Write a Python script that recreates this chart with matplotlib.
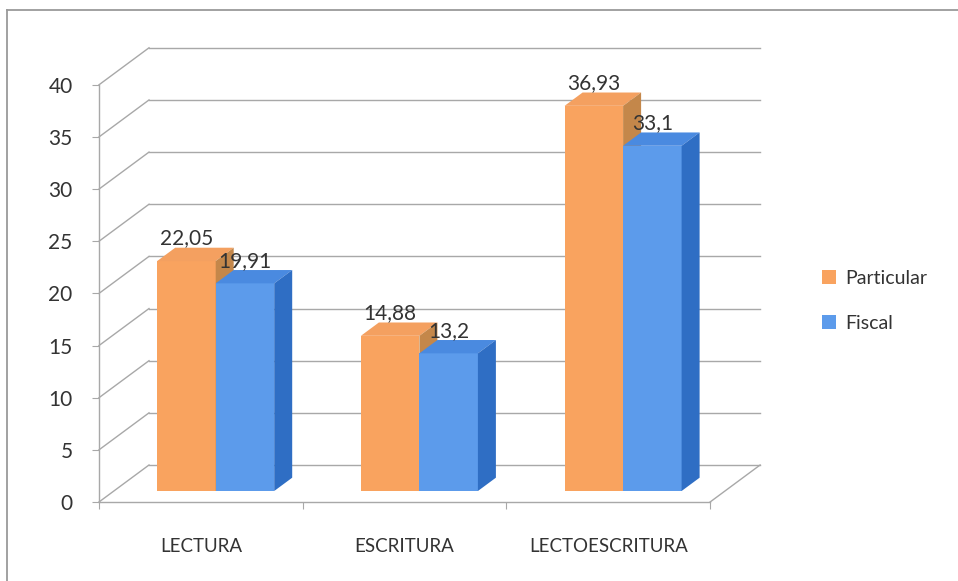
import matplotlib
matplotlib.use("Agg")
import matplotlib.pyplot as plt
from matplotlib.patches import Polygon, Patch
from matplotlib.lines import Line2D

plt.rcParams["font.family"] = ["Lato", "DejaVu Sans"]

categories = ["LECTURA", "ESCRITURA", "LECTOESCRITURA"]
series_names = ["Particular", "Fiscal"]
particular = [22.05, 14.88, 36.93]
fiscal = [19.91, 13.2, 33.1]
yticks = [0, 5, 10, 15, 20, 25, 30, 35, 40]

W, H = 958, 581
fig = plt.figure(figsize=(W / 100, H / 100), dpi=100)
ax = fig.add_axes([0, 0, 1, 1])

# pixel mapping: x=0 at px 99, 203.7 px per category; y=0 at px 502, 10.43 px per unit
px_x, px_y = 203.7, 10.43
ax.set_xlim(-99 / px_x, (W - 99) / px_x)
ax.set_ylim(-(H - 502) / px_y, 502 / px_y)

# depth vector of the 3D box (data units)
DX, DY = 50 / px_x, 37 / px_y
grid_c = "#A8A8A8"
text_c = "#333333"

# back wall gridlines and left wall diagonals
for v in yticks:
    ax.plot([DX, len(categories) + DX], [v + DY, v + DY], color=grid_c, lw=1.0, zorder=1)
    ax.plot([0, DX], [v, v + DY], color=grid_c, lw=1.0, zorder=1)
# floor right edge
ax.plot([len(categories), len(categories) + DX], [0, DY], color=grid_c, lw=1.0, zorder=1)

# axes spines
for s in ["top", "right"]:
    ax.spines[s].set_visible(False)
ax.spines["left"].set_position(("data", 0))
ax.spines["left"].set_bounds(yticks[0], yticks[-1])
ax.spines["bottom"].set_position(("data", 0))
ax.spines["bottom"].set_bounds(0, len(categories))
for s in ["left", "bottom"]:
    ax.spines[s].set_color(grid_c)
    ax.spines[s].set_linewidth(1.0)

ax.set_yticks(yticks)
ax.set_yticklabels([str(t) for t in yticks])
ax.tick_params(axis="y", length=5, color=grid_c, labelsize=15, labelcolor=text_c, pad=14)
ax.set_xticks(range(len(categories) + 1))
ax.set_xticklabels([])
ax.set_xticks([i + 0.5 for i in range(len(categories))], minor=True)
ax.set_xticklabels(categories, minor=True)
ax.tick_params(axis="x", which="major", length=5, color=grid_c, direction="out")
ax.tick_params(axis="x", which="minor", length=0, labelsize=13.5, labelcolor=text_c, pad=26)

# bars
d0, bd = 0.297, 0.36          # bar start depth and bar depth (fractions of box depth)
bw = 58.5 / px_x               # bar width
y0 = d0 * DY
bdx, bdy = bd * DX, bd * DY
faces = {
    "Particular": ("#F9A35F", "#F4A060", "#C4874A"),
    "Fiscal": ("#5C9BEB", "#4A8AE0", "#2F6EC4"),
}

for i in range(len(categories)):
    c = i + 0.5 + d0 * DX
    for j, (name, vals) in enumerate(zip(series_names, [particular, fiscal])):
        front, top, side = faces[name]
        v = vals[i]
        x = c - bw + j * bw
        z = 3 + j
        ax.bar(x, v, width=bw, bottom=y0, align="edge", color=front, lw=0, zorder=z)
        yt = y0 + v
        ax.add_patch(Polygon([(x, yt), (x + bw, yt), (x + bw + bdx, yt + bdy), (x + bdx, yt + bdy)],
                             closed=True, facecolor=top, lw=0, zorder=z))
        ax.add_patch(Polygon([(x + bw, y0), (x + bw + bdx, y0 + bdy), (x + bw + bdx, yt + bdy), (x + bw, yt)],
                             closed=True, facecolor=side, lw=0, zorder=z))
        ax.text(x + bw / 2, yt + bdy + 0.9, str(v).replace(".", ","), ha="center", va="center",
                fontsize=15, color=text_c, zorder=10)

handles = [Patch(facecolor=faces[n][0], edgecolor="none") for n in series_names]
ax.legend(handles, series_names, loc="center left", bbox_to_anchor=(812 / W, 1 - 301 / H),
          frameon=False, fontsize=14, handlelength=0.75, handleheight=0.75, handletextpad=0.45,
          labelspacing=1.45, borderpad=0, labelcolor=text_c)

# chart border (top and left visible)
bc = "#9A9A9A"
fig.add_artist(Line2D([7 / W, 7 / W], [0, 1 - 10 / H], color=bc, lw=1.3))
fig.add_artist(Line2D([7 / W, 1], [1 - 10 / H, 1 - 10 / H], color=bc, lw=1.3))

fig.savefig("out.png", dpi=100)
